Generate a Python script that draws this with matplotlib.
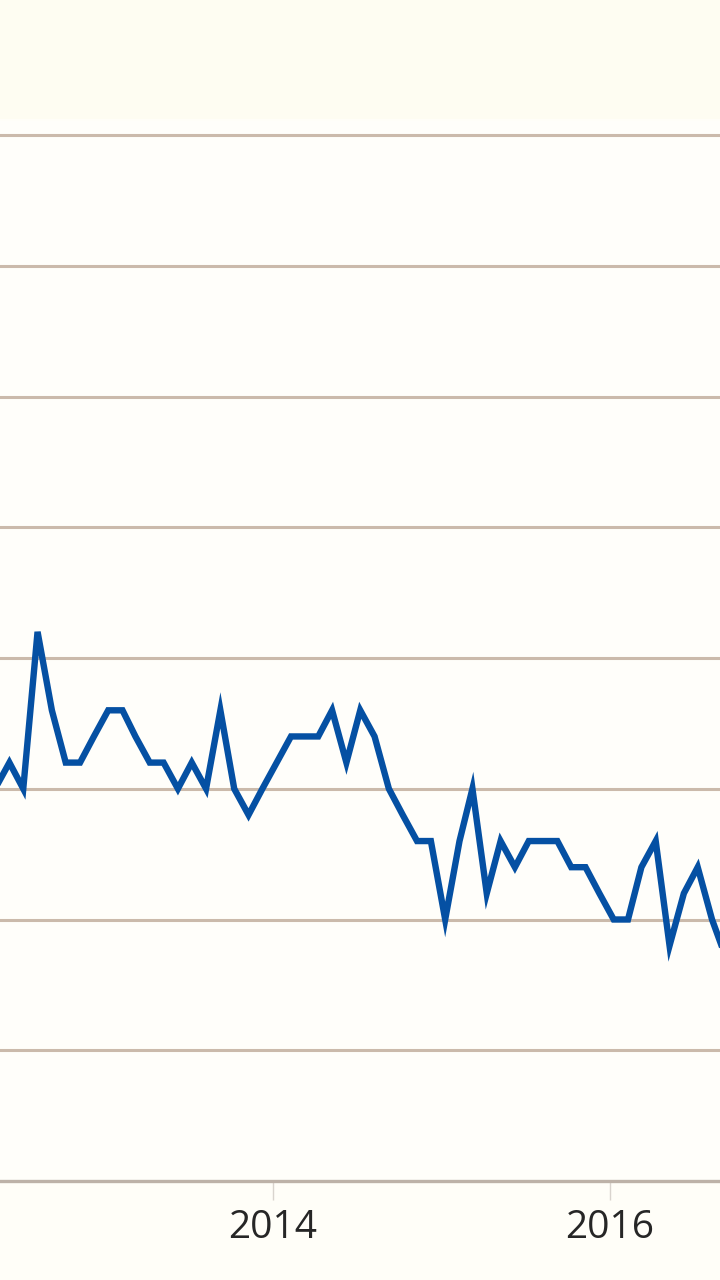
import matplotlib
matplotlib.use("Agg")
import matplotlib.pyplot as plt
import matplotlib.dates as mdates
import pandas as pd
from matplotlib.patches import Rectangle

# ---- data ----
start_month = "2012-05-01"
values = [3.0, 3.2, 3.0, 4.2, 3.6, 3.2, 3.2, 3.4, 3.6, 3.6,
          3.4, 3.2, 3.2, 3.0, 3.2, 3.0, 3.6, 3.0, 2.8, 3.0,
          3.2, 3.4, 3.4, 3.4, 3.6, 3.2, 3.6, 3.4, 3.0, 2.8,
          2.6, 2.6, 2.0, 2.6, 3.0, 2.2, 2.6, 2.4, 2.6, 2.6,
          2.6, 2.4, 2.4, 2.2, 2.0, 2.0, 2.4, 2.6, 1.8, 2.2,
          2.4, 2.0, 1.7]
tick_years = ["2014-01-01", "2016-01-01"]
tick_labels = ["2014", "2016"]
grid_values = [1, 2, 3, 4, 5, 6, 7, 8]

dates = pd.date_range(start_month, periods=len(values), freq="MS") + pd.Timedelta(days=8)

W, H = 720, 1280
fig = plt.figure(figsize=(W / 100, H / 100), dpi=100, facecolor="#FFFEF8")

# top cream band
fig.patches.append(Rectangle((0, 1 - 119 / H), 1, 119 / H, transform=fig.transFigure,
                             facecolor="#FEFDF2", edgecolor="none", zorder=0))

ax_bottom = 1 - 1181 / H
ax_top = 1 - 121 / H
ax = fig.add_axes([0, ax_bottom, 1, ax_top - ax_bottom])
ax.set_facecolor("#FFFEFA")

ax.plot(dates, values, color="#0550A3", lw=4.6, solid_joinstyle="miter", zorder=3, clip_on=True)

ax.set_ylim(0, (1181 - 121) / 130.75)
t14 = mdates.date2num(pd.Timestamp("2014-01-01"))
t16 = mdates.date2num(pd.Timestamp("2016-01-01"))
px_per_day = (610 - 273) / (t16 - t14)
ax.set_xlim(t14 - 273 / px_per_day, t16 + (720 - 610) / px_per_day)

for g in grid_values:
    ax.axhline(g, color="#CBBAAB", lw=2.2, zorder=1)

for s in ["top", "left", "right"]:
    ax.spines[s].set_visible(False)
ax.spines["bottom"].set_color("#BDB2A8")
ax.spines["bottom"].set_linewidth(2.4)

ax.set_yticks([])
ax.set_xticks([mdates.date2num(pd.Timestamp(t)) for t in tick_years])
ax.set_xticklabels(tick_labels, fontsize=28, color="#262626", family=["Open Sans", "DejaVu Sans"])
ax.tick_params(axis="x", length=14, width=1, color="#D9D4CE", pad=6)

fig.savefig("out.png", dpi=100, facecolor=fig.get_facecolor())
